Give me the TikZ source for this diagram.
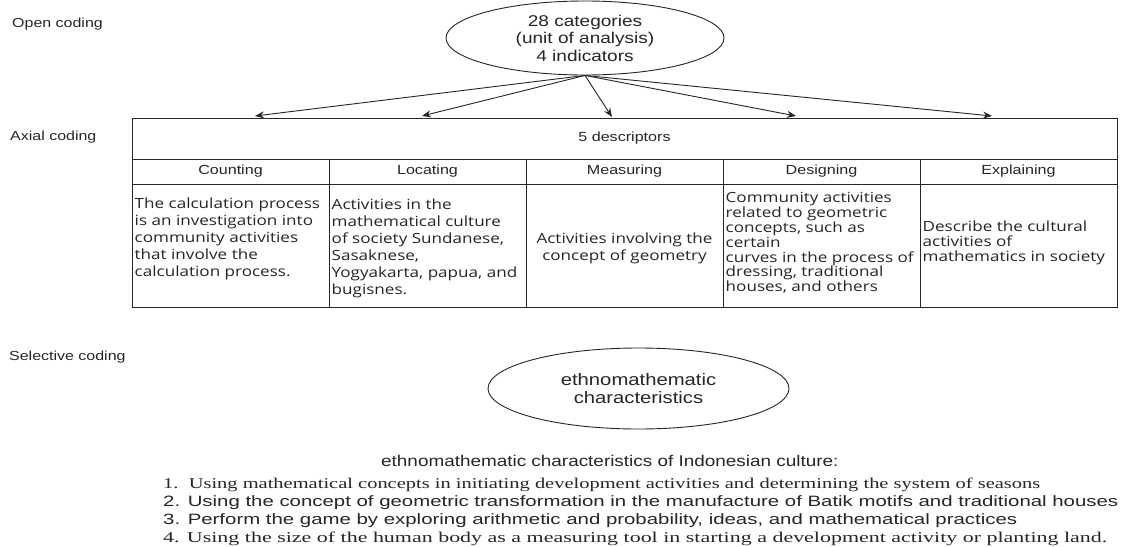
\documentclass[tikz,border=0pt]{standalone}
\usepackage{fontspec}
\usepackage{graphicx}
\setmainfont{Liberation Sans}
\newfontfamily\myArial[FakeStretch=1.22]{Liberation Sans}
\newfontfamily\myOpen[FakeStretch=1.22]{Open Sans}
\newfontfamily\myTimes{Liberation Serif}
\newfontfamily\myPlain{Liberation Sans}
\usetikzlibrary{shapes.geometric,arrows.meta}
\begin{document}
\begin{tikzpicture}[x=1pt,y=-1pt,
  txt/.style={text=black!85, inner sep=0pt},
  lbl/.style={txt, anchor=west, font=\myArial\fontsize{13.1}{15}\selectfont},
  hdr/.style={font=\myArial\fontsize{13.2}{15}\selectfont, text=black!85},
  cellbox/.style={draw=black!85, line width=0.9pt, inner sep=0pt, minimum width=197pt},
  body/.style={txt, align=left, anchor=west, font=\myOpen\fontsize{14}{17}\selectfont},
  bodytight/.style={txt, align=left, anchor=west, font=\myOpen\fontsize{14}{14.8}\selectfont},
  oval/.style={ellipse, draw=black!85, line width=0.9pt, inner sep=0pt, align=center, text=black!85},
  arr/.style={-{Stealth[length=9pt,width=7pt]}, draw=black!85, line width=0.9pt},
  item/.style={txt, anchor=west, font=\fontsize{15}{18}\selectfont}
]
\useasboundingbox (0,0) rectangle (1121,546);
\fill[white] (0,0) rectangle (1121,546);

% stage labels
\node[lbl] (open) at (12,24) {Open coding};
\node[lbl] (axial) at (10,137) {Axial coding};
\node[lbl] (selective) at (9,357) {Selective coding};

% top ellipse
\node[oval, minimum width=278pt, minimum height=74pt,
      font=\myArial\fontsize{15.6}{17.5}\selectfont] (e1) at (585,38)
      {28 categories\\(unit of analysis)\\4 indicators};

% table
\node[cellbox, minimum width=985pt, minimum height=41pt, hdr] (title) at (624.5,138.5) {5 descriptors};
\node[cellbox, minimum height=25pt, hdr] (h1) at (230.5,171.5) {Counting};
\node[cellbox, minimum height=25pt, hdr] (h2) at (427.5,171.5) {Locating};
\node[cellbox, minimum height=25pt, hdr] (h3) at (624.5,171.5) {Measuring};
\node[cellbox, minimum height=25pt, hdr] (h4) at (821.5,171.5) {Designing};
\node[cellbox, minimum height=25pt, hdr] (h5) at (1018.5,171.5) {Explaining};
\node[cellbox, minimum height=123pt] (c1) at (230.5,245.5) {};
\node[cellbox, minimum height=123pt] (c2) at (427.5,245.5) {};
\node[cellbox, minimum height=123pt] (c3) at (624.5,245.5) {};
\node[cellbox, minimum height=123pt] (c4) at (821.5,245.5) {};
\node[cellbox, minimum height=123pt] (c5) at (1018.5,245.5) {};
\draw[line width=1.8pt, black!85] (title.south west) -- (title.south east);

% cell texts
\node[body] (t1) at (134.5,239) {The calculation process\\is an investigation into\\community activities\\that involve the\\calculation process.};
\node[body] (t2) at (331.5,248) {Activities in the\\mathematical culture\\of society Sundanese,\\Sasaknese,\\Yogyakarta, papua, and\\bugisnes.};
\node[body, anchor=center, align=center] (t3) at (624.5,248) {Activities involving the\\concept of geometry};
\node[bodytight] (t4) at (725.5,243) {Community activities\\related to geometric\\concepts, such as\\certain\\curves in the process of\\dressing, traditional\\houses, and others};
\node[bodytight] (t5) at (922.5,243) {Describe the cultural\\activities of\\mathematics in society};

% arrows
\coordinate (a1) at (255,116);
\coordinate (a2) at (422,116);
\coordinate (a3) at (612,117);
\coordinate (a4) at (796,116);
\coordinate (a5) at (992,116);
\foreach \t in {a1,a2,a3,a4,a5} \draw[arr] (e1.south) -- (\t);

% bottom ellipse
\node[oval, minimum width=301pt, minimum height=81pt,
      font=\myArial\fontsize{16.6}{18}\selectfont] (e2) at (638.5,388.5)
      {ethnomathematic\\characteristics};

% heading and list
\node[txt, anchor=west, font=\myArial\fontsize{15.5}{18}\selectfont] (head) at (381,461)
  {ethnomathematic characteristics of Indonesian culture:};
\node[item, font=\myTimes\fontsize{15}{18}\selectfont] (l1) at (163,485)
  {\resizebox{877pt}{\height}{1.\ \ Using mathematical concepts in initiating development activities and determining the system of seasons}};
\node[item, font=\myPlain\fontsize{15}{18}\selectfont] (l2) at (163,503)
  {\resizebox{955pt}{\height}{2. Using the concept of geometric transformation in the manufacture of Batik motifs and traditional houses}};
\node[item, font=\myPlain\fontsize{15}{18}\selectfont] (l3) at (163,521)
  {\resizebox{854pt}{\height}{3. Perform the game by exploring arithmetic and probability, ideas, and mathematical practices}};
\node[item, font=\myTimes\fontsize{15}{18}\selectfont] (l4) at (163,539)
  {\resizebox{944pt}{\height}{4. Using the size of the human body as a measuring tool in starting a development activity or planting land.}};
\end{tikzpicture}
\end{document}
